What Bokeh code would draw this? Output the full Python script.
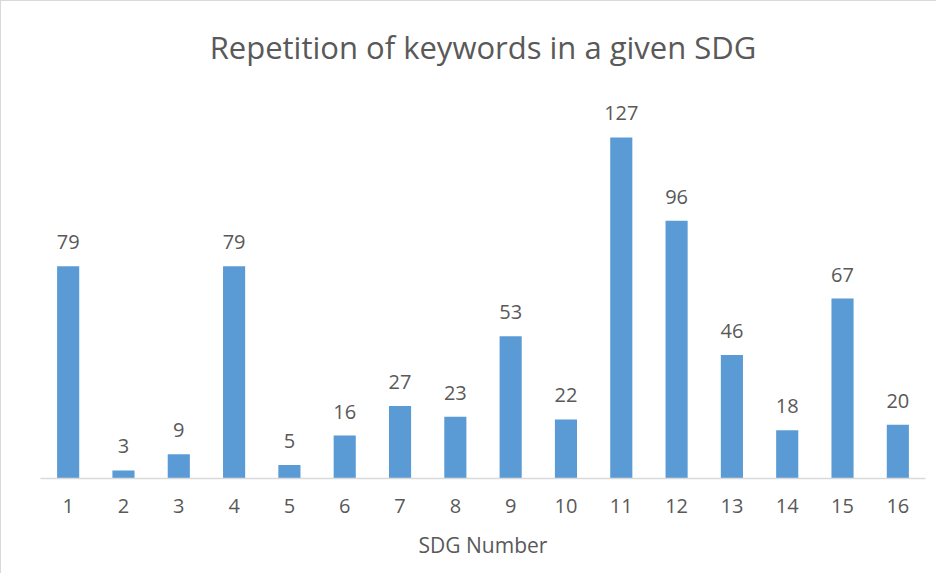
from bokeh.plotting import figure
from bokeh.models import ColumnDataSource, Range1d, Label
from bokeh.embed import file_html
from bokeh.resources import INLINE

categories = [str(i) for i in range(1, 17)]
counts = [79, 3, 9, 79, 5, 16, 27, 23, 53, 22, 127, 96, 46, 18, 67, 20]
title_text = "Repetition of keywords in a given SDG"
x_label = "SDG Number"

FONT = "Open Sans"
TXT = "#595959"
BAR = "#5B9BD5"

source = ColumnDataSource(dict(cat=categories, val=counts, lbl=[str(v) for v in counts]))

p = figure(x_range=categories, y_range=Range1d(0, 175),
           frame_width=885, frame_height=470, output_backend="svg", toolbar_location=None,
           min_border_left=39, min_border_right=11,
           min_border_top=7, min_border_bottom=95)
p.styles = {"border-left": "1px solid #d9d9d9", "border-top": "1px solid #d9d9d9"}

p.vbar(x="cat", top="val", width=0.4, source=source, color=BAR, line_color=None)
p.text(x="cat", y="val", text="lbl", source=source, text_align="center",
       text_baseline="bottom", y_offset=-17, text_font_size="20px",
       text_color=TXT, text_font={"value": FONT})

title = Label(x=len(categories) / 2, y=160.8, text=title_text, text_align="center",
              text_baseline="middle", text_font=FONT, text_font_size="31px",
              text_color=TXT)
p.add_layout(title)

p.x_range.range_padding = 0
p.yaxis.visible = False
p.xgrid.grid_line_color = None
p.ygrid.grid_line_color = None
p.outline_line_color = None

ax = p.xaxis[0]
ax.axis_line_color = "#d9d9d9"
ax.axis_line_width = 1.5
ax.major_tick_line_color = None
ax.minor_tick_line_color = None
ax.major_label_text_font = FONT
ax.major_label_text_font_size = "20px"
ax.major_label_text_color = TXT
ax.major_label_standoff = 14
ax.axis_label = x_label
ax.axis_label_text_font = FONT
ax.axis_label_text_font_size = "21px"
ax.axis_label_text_font_style = "normal"
ax.axis_label_text_color = TXT
ax.axis_label_standoff = 15

p.background_fill_color = "white"
p.border_fill_color = "white"

open("out.html", "w").write(file_html(p, INLINE))
